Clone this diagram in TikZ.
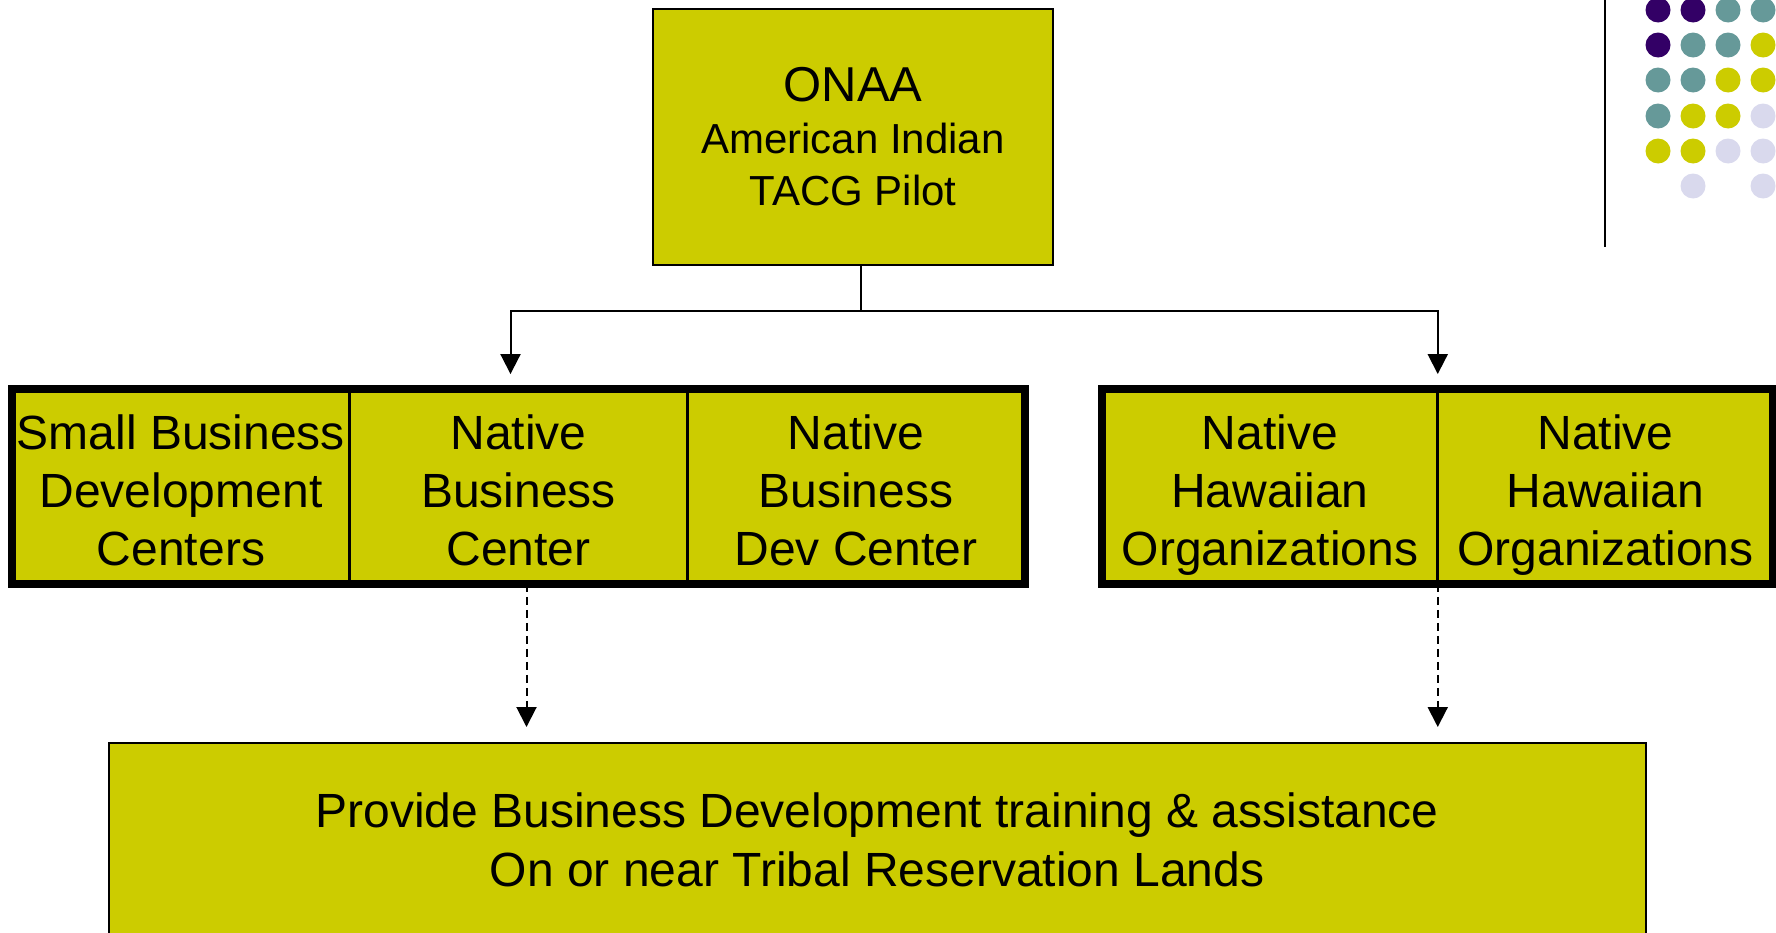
\documentclass[tikz,border=0pt]{standalone}
\usepackage{fontspec}
\setmainfont{Liberation Sans}
\usetikzlibrary{arrows.meta}
\usetikzlibrary{positioning,fit}

\definecolor{olive}{RGB}{204,204,0}
\definecolor{dpurple}{RGB}{51,0,102}
\definecolor{dteal}{RGB}{102,153,153}
\definecolor{dlav}{RGB}{217,217,237}

\newcommand{\topline}{\rule{0pt}{30pt}}

\begin{document}
\begin{tikzpicture}[x=0.5pt, y=-0.5pt,
	topbox/.style={draw, line width=1pt, fill=olive, minimum width=200pt, minimum height=128pt, inner sep=0pt, align=center, font=\fontsize{21pt}{26pt}\selectfont},
	cell/.style={draw, line width=0.75pt, fill=olive, minimum width=168pt, minimum height=95.5pt, inner sep=0pt, align=center, font=\fontsize{24pt}{29pt}\selectfont},
	grp/.style={draw, line width=4pt, inner sep=0pt},
	goalbox/.style={draw, line width=1pt, fill=olive, minimum width=768.5pt, minimum height=97pt, inner sep=0pt, align=center, font=\fontsize{24pt}{29.5pt}\selectfont},
	link/.style={line width=1pt, -{Triangle[width=10pt,length=10pt]}, shorten >=5.5pt},
	dasharrow/.style={link, dash pattern=on 4pt off 2.5pt, shorten >=7.5pt}]
	\useasboundingbox (0,0) rectangle (1776,932);

	% corner decoration
	\draw[line width=1pt] (1605,0) -- (1605,247);
	\foreach \y/\a/\b/\c/\d in {10/dpurple/dpurple/dteal/dteal, 45/dpurple/dteal/dteal/olive, 80/dteal/dteal/olive/olive, 116/dteal/olive/olive/dlav, 151/olive/olive/dlav/dlav, 186/none/dlav/none/dlav}
		{
		\fill[fill=\a] (1658,\y) circle (6.25pt);
		\fill[fill=\b] (1693,\y) circle (6.25pt);
		\fill[fill=\c] (1728,\y) circle (6.25pt);
		\fill[fill=\d] (1763,\y) circle (6.25pt);
		}

	\node[topbox] (onaa) at (853,137) {{\fontsize{24.5pt}{26pt}\selectfont ONAA}\\
		American Indian\\
		TACG Pilot};

	% left group
	\node[cell] (sbdc) at (181,486.5) {\topline Small Business\\Development\\Centers\strut};
	\node[cell, right=0pt of sbdc] (nbc) {\topline Native\\Business\\Center\strut};
	\node[cell, right=0pt of nbc] (nbdc) {\topline Native\\Business\\Dev Center\strut};
	\node[grp, fit=(sbdc)(nbdc)] (leftgrp) {};

	% right group
	\node[cell, minimum width=167pt] (nho1) at (1270,486.5) {\topline Native\\Hawaiian\\Organizations\strut};
	\node[cell, minimum width=167pt, right=0pt of nho1] (nho2) {\topline Native\\Hawaiian\\Organizations\strut};
	\node[grp, fit=(nho1)(nho2)] (rightgrp) {};

	\node[goalbox] (goal) at (877,840) {Provide Business Development training \& assistance\\On or near Tribal Reservation Lands};

	\coordinate (fork) at (861,311);
	\draw[line width=1pt] ([xshift=4pt]onaa.south) -- (fork);
	\draw[link] (fork) -| ([xshift=-4pt]leftgrp.north);
	\draw[link] (fork) -| (rightgrp.north);

	\draw[dasharrow] ([xshift=4pt]nbc.south) -- ([xshift=4pt]nbc.south |- goal.north);
	\draw[dasharrow] (nho1.south east) -- (nho1.south east |- goal.north);

\end{tikzpicture}
\end{document}
